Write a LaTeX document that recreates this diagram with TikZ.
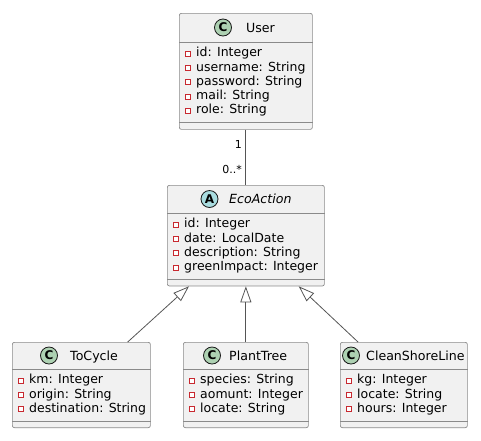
\documentclass[tikz,border=0pt]{standalone}
\usepackage{fontspec}
\setmainfont{DejaVu Sans}
\usetikzlibrary{arrows.meta,positioning}
\definecolor{classbg}{HTML}{F1F1F1}
\definecolor{clsline}{HTML}{8A8A8A}
\definecolor{linecol}{HTML}{555555}
\definecolor{badgeline}{HTML}{181818}
\definecolor{cgreen}{HTML}{ADD1B2}
\definecolor{ablue}{HTML}{A9DCDF}
\definecolor{privred}{HTML}{C82930}

\begin{document}
\begin{tikzpicture}[x=1pt, y=-1pt,
  cls/.style={draw=clsline, fill=classbg, rounded corners=2pt, line width=0.7pt, anchor=north west, inner sep=0pt},
  sep/.style={draw=clsline, line width=0.7pt},
  badge/.style={circle, draw=badgeline, line width=0.8pt, minimum size=17pt, inner sep=0pt, font=\bfseries\fontsize{12}{12}\selectfont},
  title/.style={anchor=base west, inner sep=0pt, font=\fontsize{12.6}{14}\selectfont},
  attr/.style={anchor=base west, inner sep=0pt, font=\fontsize{12.5}{14}\selectfont},
  priv/.style={draw=privred, fill=white, line width=0.8pt, minimum size=5pt, inner sep=0pt},
  mult/.style={inner sep=0pt, font=\fontsize{11}{11}\selectfont},
  assoc/.style={draw=linecol, line width=0.8pt},
  extends/.style={draw=linecol, line width=0.8pt, -{Triangle[length=16pt, width=11pt, fill=white]}}]
\useasboundingbox (0,0) rectangle (481,440);

%%%%% User %%%%%
\node[cls, minimum width=133pt, minimum height=116pt] (user) at (179,13) {};
\node[badge, fill=cgreen] (userC) at (223,27.5) {C};
\node[title] (userT) at (246,32) {User};
\draw[sep] ([yshift=-29pt]user.north west) -- ([yshift=-29pt]user.north east);
\draw[sep] ([yshift=7pt]user.south west) -- ([yshift=7pt]user.south east);
\foreach \a [count=\i] in {id: Integer, username: String, password: String, mail: String, role: String}{
  \node[priv] (user-p\i) at (188,{53.5+14.3*(\i-1)}) {};
  \node[attr] (user-a\i) at (196,{56.7+14.3*(\i-1)}) {\a};
}

%%%%% EcoAction %%%%%
\node[cls, minimum width=157pt, minimum height=100.6pt] (eco) at (167,185) {};
\node[badge, fill=ablue] (ecoC) at (209.5,199) {A};
\node[title] (ecoT) at (229,203.6) {\itshape EcoAction};
\draw[sep] ([yshift=-28pt]eco.north west) -- ([yshift=-28pt]eco.north east);
\draw[sep] ([yshift=7pt]eco.south west) -- ([yshift=7pt]eco.south east);
\foreach \a [count=\i] in {id: Integer, date: LocalDate, description: String, greenImpact: Integer}{
  \node[priv] (eco-p\i) at (176,{224.5+14.3*(\i-1)}) {};
  \node[attr] (eco-a\i) at (184,{227.7+14.3*(\i-1)}) {\a};
}

%%%%% ToCycle %%%%%
\node[cls, minimum width=138pt, minimum height=85.3pt] (tocycle) at (12,342) {};
\node[badge, fill=cgreen] (tocycleC) at (49,355.5) {C};
\node[title] (tocycleT) at (70,360) {ToCycle};
\draw[sep] ([yshift=-27pt]tocycle.north west) -- ([yshift=-27pt]tocycle.north east);
\draw[sep] ([yshift=7pt]tocycle.south west) -- ([yshift=7pt]tocycle.south east);
\foreach \a [count=\i] in {km: Integer, origin: String, destination: String}{
  \node[priv] (tocycle-p\i) at (21,{380.5+14.3*(\i-1)}) {};
  \node[attr] (tocycle-a\i) at (29,{383.7+14.3*(\i-1)}) {\a};
}

%%%%% PlantTree %%%%%
\node[cls, minimum width=125pt, minimum height=85.3pt] (plant) at (183,342) {};
\node[badge, fill=cgreen] (plantC) at (212,355.5) {C};
\node[title] (plantT) at (229,360) {PlantTree};
\draw[sep] ([yshift=-27pt]plant.north west) -- ([yshift=-27pt]plant.north east);
\draw[sep] ([yshift=7pt]plant.south west) -- ([yshift=7pt]plant.south east);
\foreach \a [count=\i] in {species: String, aomunt: Integer, locate: String}{
  \node[priv] (plant-p\i) at (192,{380.5+14.3*(\i-1)}) {};
  \node[attr] (plant-a\i) at (200,{383.7+14.3*(\i-1)}) {\a};
}

%%%%% CleanShoreLine %%%%%
\node[cls, minimum width=127pt, minimum height=85.3pt] (clean) at (340,342) {};
\node[badge, fill=cgreen] (cleanC) at (351,355.5) {C};
\node[title] (cleanT) at (366,360) {CleanShoreLine};
\draw[sep] ([yshift=-27pt]clean.north west) -- ([yshift=-27pt]clean.north east);
\draw[sep] ([yshift=7pt]clean.south west) -- ([yshift=7pt]clean.south east);
\foreach \a [count=\i] in {kg: Integer, locate: String, hours: Integer}{
  \node[priv] (clean-p\i) at (349,{380.5+14.3*(\i-1)}) {};
  \node[attr] (clean-a\i) at (357,{383.7+14.3*(\i-1)}) {\a};
}

%%%%% Relations %%%%%
\draw[assoc] (user) -- node[mult, pos=0.34, anchor=base east, xshift=-3.5pt] (m1) {1}
  node[mult, pos=0.786, anchor=base east, xshift=-3.5pt] (m2) {0..*} (eco);
\draw[extends] ([xshift=-23pt]tocycle.north east) -- ([xshift=22pt]eco.south west);
\draw[extends] (plant.north) -- (eco.south);
\draw[extends] ([xshift=18pt]clean.north west) -- ([xshift=-26pt]eco.south east);
\end{tikzpicture}
\end{document}
